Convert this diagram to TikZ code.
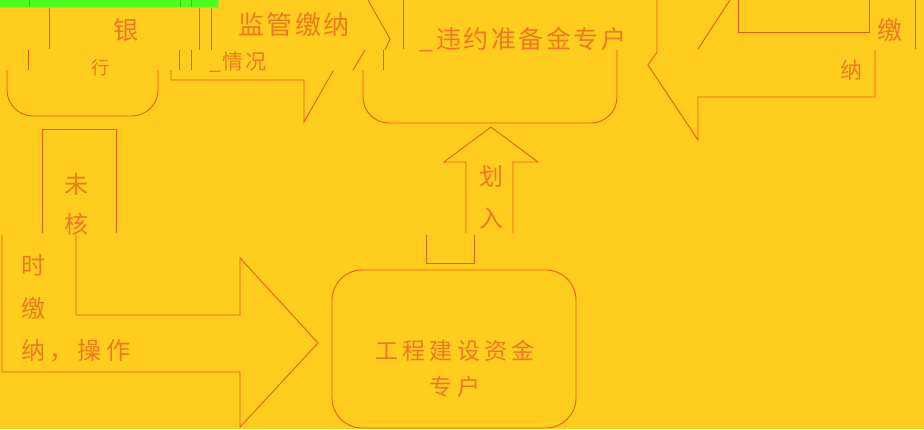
\documentclass[tikz,border=0pt]{standalone}
\usepackage{fontspec}
\newfontfamily\cjk{Noto Sans CJK SC}
\definecolor{bg}{RGB}{255,205,30}
\definecolor{ln}{RGB}{236,92,18}
\definecolor{tx}{RGB}{238,122,30}
\definecolor{grn}{RGB}{76,255,32}
\definecolor{dgrn}{RGB}{40,200,20}
\begin{document}
\begin{tikzpicture}[x=1pt,y=-1pt,
  line/.style={draw=ln,line width=0.9pt},
  lbl/.style 2 args={text=tx,inner sep=0pt,font=\cjk\fontsize{#1}{#1}\selectfont\addfontfeature{LetterSpace=#2}},
  lbl/.default={24}{12}]
\fill[bg] (0,0) rectangle (924,429);
\useasboundingbox (0,0) rectangle (924,429);
% green strip
\fill[grn] (0,0) rectangle (218,7);
\draw[yellow!60!grn,line width=0.8pt] (0,7.5) -- (218,7.5) -- (218,0);
\foreach \x in {29,180,191} \draw[dgrn,line width=0.8pt] (\x,0) -- (\x,7);
% left bank box
\draw[line] (49,8) -- (49,49);
\draw[line] (28,50) -- (28,70);
\draw[line,rounded corners=26pt] (7,70) -- (7,116) -- (158,116) -- (158,70);
\node[lbl={25}{0}] (yin) at (126,30) {银};
\node[lbl={18}{0}] (hang) at (100,68) {行};
% supervision arrow
\draw[line] (199,8) -- (199,50);
\draw[line] (211,8) -- (211,50);
\draw[line] (179,50) -- (179,70);
\draw[line] (191,50) -- (191,70);
\draw[line] (171,70) -- (171,80) -- (304,80) -- (304,122) -- (333,71);
\draw[line] (353,70) -- (365,50);
\draw[line] (368,0) -- (390,39) -- (385,50);
\draw[line] (383,50) -- (383,70);
\draw[line] (403,0) -- (403,49);
\node[lbl={26}{9}] (jg) at (294,25) {监管缴纳};
\node[lbl={21}{10}] (qk) at (238,62) {\_情况};
% reserve account box
\draw[line,rounded corners=26pt] (363,70) -- (363,123) -- (617,123) -- (617,50);
\node[lbl={25}{10}] (wy) at (523,40) {\_违约准备金专户};
% right arrow (pointing left)
\draw[line] (738,0) -- (738,32) -- (869,32) -- (869,0);
\draw[line] (915,0) -- (915,49);
\draw[line] (657,0) -- (657,52) -- (648,65) -- (698,140) -- (698,97) -- (875,97) -- (875,50);
\draw[line] (698,49) -- (730,0);
\node[lbl={25}{0}] (jiao1) at (890,30) {缴};
\node[lbl={22}{0}] (na1) at (851,70) {纳};
% unverified box
\draw[line] (42,233) -- (42,129) -- (116,129) -- (116,233);
\node[lbl={24}{0}] (wei) at (76,184) {未};
\node[lbl={24}{0}] (he) at (76,224) {核};
% big right arrow
\draw[line] (76,235) -- (76,315) -- (240,315) -- (240,258) -- (318,343) -- (240,427) -- (240,372) -- (2,372) -- (2,235);
\node[lbl={24}{0}] (shi) at (33,265) {时};
\node[lbl={24}{0}] (jiao2) at (33,308) {缴};
\node[lbl={24}{18},anchor=west] (na2) at (21,351) {纳，操作};
% up arrow
\draw[line] (466,233) -- (466,162) -- (444,162) -- (491,127) -- (538,162) -- (513,162) -- (513,233);
\draw[line] (426,235) -- (426,263) -- (474,263) -- (474,235);
\node[lbl={24}{0}] (hua) at (491,176) {划};
\node[lbl={24}{0}] (ru) at (491,219) {入};
% construction account box
\draw[line,rounded corners=30pt] (332,270) rectangle (576,428);
\node[lbl={23}{18}] (gc) at (455,351) {工程建设资金};
\node[lbl={23}{18}] (zh) at (455,387) {专户};
\end{tikzpicture}
\end{document}
